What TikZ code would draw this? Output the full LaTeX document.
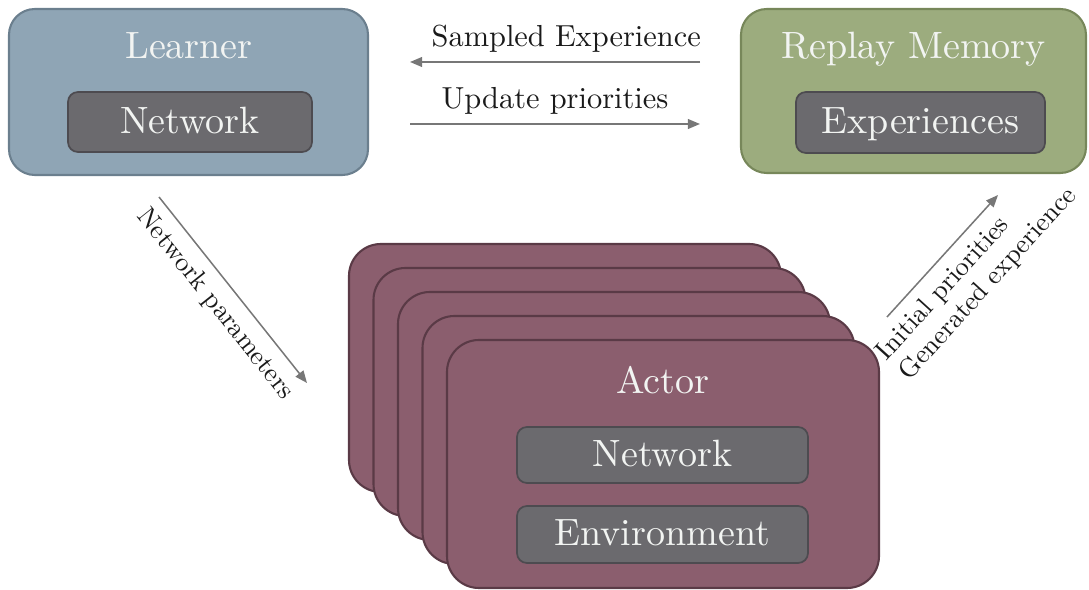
\documentclass[tikz,border=0pt]{standalone}
\usepackage{fontspec}
\usetikzlibrary{arrows.meta,fit}

\definecolor{learnerfill}{HTML}{8FA5B5}
\definecolor{learnerline}{HTML}{6B7F8E}
\definecolor{replayfill}{HTML}{9CAC7E}
\definecolor{replayline}{HTML}{77875A}
\definecolor{actorfill}{HTML}{8B5E6E}
\definecolor{actorline}{HTML}{5A3A46}
\definecolor{innerfill}{HTML}{6B6A6E}
\definecolor{innerline}{HTML}{4D4B50}
\definecolor{titletext}{HTML}{F2F4F2}
\definecolor{arrowgray}{HTML}{777777}
\definecolor{labeltext}{HTML}{1A1A1A}

% one unit of the drawing grid
\newcommand{\gridu}{0.263pt}

\tikzset{
  bigbox/.style={draw, line width=0.55pt, inner sep=0pt, rounded corners=6.8pt},
  learnerbox/.style={bigbox, fill=learnerfill, draw=learnerline},
  replaybox/.style={bigbox, fill=replayfill, draw=replayline},
  actorbox/.style={bigbox, fill=actorfill, draw=actorline, rounded corners=8.4pt},
  innerbox/.style 2 args={draw=innerline, fill=innerfill, line width=0.45pt, inner sep=0pt,
    rounded corners=2.6pt, text=titletext, font=\fontsize{10}{12}\selectfont,
    text height=7pt, text depth=1.2pt,
    minimum width=#1*\gridu, minimum height=#2*\gridu},
  titlelabel/.style={anchor=base, text=titletext, inner sep=0pt,
    font=\fontsize{10}{12}\selectfont},
  arr/.style={draw=arrowgray, line width=0.4pt,
    -{Triangle[length=3.2pt,width=2.6pt,fill=arrowgray]}},
  flowlabel/.style={text=labeltext, inner sep=3pt, scale=0.8,
    font=\fontsize{10}{12}\selectfont},
  diaglabel/.style={text=labeltext, inner sep=4pt, scale=0.7,
    font=\fontsize{10}{11.3}\selectfont}
}

\begin{document}
\begin{tikzpicture}[x=\gridu, y=-\gridu]
  \useasboundingbox (0,0) rectangle (1089,590);

  % Learner
  \node[learnerbox, fit={(9,9) (368,175)}] (learner) {};
  \node[titlelabel] (learnertitle) at (189,59) {Learner};
  \node[innerbox={244}{60}] (learnernet) at (190,122) {Network};

  % Replay memory
  \node[replaybox, fit={(741,9) (1086,173)}] (replay) {};
  \node[titlelabel] (replaytitle) at (913.5,59) {Replay Memory};
  \node[innerbox={249}{61}] (replayexp) at (920.5,122.5) {Experiences};

  % Stack of actors, back to front
  \foreach \i in {0,...,4} {
    \node[actorbox, fit={({349+24.5*\i},{244+24*\i}) ({781+24.5*\i},{492+24*\i})}] (actor\i) {};
  }
  \node[titlelabel] (actortitle) at (663,394) {Actor};
  \node[innerbox={291}{56}] (actornet) at (662.5,455) {Network};
  \node[innerbox={291}{57}] (actorenv) at (662.5,534.5) {Environment};

  % Arrow end points
  \coordinate (sampledfrom) at (700,62);
  \coordinate (sampledto) at (410,62);
  \coordinate (updatefrom) at (410,124);
  \coordinate (updateto) at (700,124);
  \coordinate (paramsfrom) at (159,197);
  \coordinate (paramsto) at (307,383);
  \coordinate (genfrom) at (887,317);
  \coordinate (gento) at (998,195);

  % Connectors
  \draw[arr] (sampledfrom) -- node[flowlabel, above, xshift=3.7pt] {Sampled Experience} (sampledto);
  \draw[arr] (updatefrom) -- node[flowlabel, above] {Update priorities} (updateto);
  \draw[arr] (paramsfrom) -- node[diaglabel, sloped, below] {Network parameters} (paramsto);
  \draw[arr] (genfrom) -- node[diaglabel, sloped, below, align=left, pos=0.56]
    {Initial priorities\\Generated experience} (gento);
\end{tikzpicture}
\end{document}
